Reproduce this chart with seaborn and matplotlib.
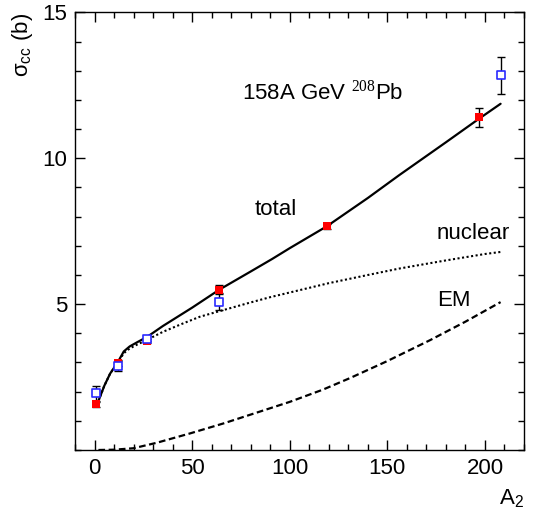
import numpy as np
import pandas as pd
import matplotlib
matplotlib.use("Agg")
import matplotlib.pyplot as plt
import seaborn as sns

# --- curves ---
A_total = [2, 5, 8, 12, 15, 18, 22, 27, 35, 50, 64, 80, 91, 100, 119, 140, 156, 180, 197, 208]
sigma_total = [1.68, 2.2, 2.62, 3.02, 3.38, 3.55, 3.7, 3.88, 4.25, 4.88, 5.5, 6.12, 6.55, 6.92,
               7.67, 8.64, 9.42, 10.55, 11.36, 11.87]

A_nuclear = [2, 5, 8, 12, 15, 18, 22, 27, 35, 45, 54, 64, 80, 90, 105, 120, 140, 156, 180, 200, 208]
sigma_nuclear = [1.68, 2.2, 2.62, 3.0, 3.32, 3.48, 3.62, 3.78, 4.05, 4.33, 4.57, 4.76, 5.06,
                 5.24, 5.48, 5.72, 6.0, 6.22, 6.5, 6.72, 6.79]

A_em = [2, 10, 20, 32, 49, 66, 83, 100, 117, 131, 150, 172, 190, 208]
sigma_em = [0.0, 0.01, 0.06, 0.25, 0.57, 0.91, 1.28, 1.65, 2.07, 2.47, 3.05, 3.77, 4.4, 5.07]

# --- measurements ---
A_red = [1, 12, 27, 64, 119, 197]
sigma_red = [1.56, 2.99, 3.74, 5.50, 7.67, 11.41]
err_red = [0.08, 0.1, 0.08, 0.15, 0.08, 0.33]

A_blue = [1, 12, 27, 64, 208]
sigma_blue = [1.94, 2.88, 3.82, 5.09, 12.85]
err_blue = [0.26, 0.18, 0.1, 0.29, 0.64]

sns.set_theme(style="ticks")
plt.rcParams['font.family'] = ['Liberation Sans', 'DejaVu Sans']
plt.rcParams['mathtext.fontset'] = 'custom'
plt.rcParams['mathtext.rm'] = 'Liberation Serif'
plt.rcParams['mathtext.sf'] = 'Liberation Sans'
plt.rcParams['mathtext.it'] = 'Liberation Sans:italic'
plt.rcParams['text.color'] = 'black'
plt.rcParams['axes.labelcolor'] = 'black'

fig = plt.figure(figsize=(5.38, 5.12), dpi=100)
ax = fig.add_axes([0.1394, 0.1211, 0.8346, 0.8545])

sns.lineplot(x=A_total, y=sigma_total, ax=ax, color='black', lw=1.6)
sns.lineplot(x=A_nuclear, y=sigma_nuclear, ax=ax, color='black', lw=1.5,
             linestyle=(0, (1, 1.2)))
sns.lineplot(x=A_em, y=sigma_em, ax=ax, color='black', lw=1.6,
             linestyle=(0, (3, 1.6)))

ax.errorbar(A_blue, sigma_blue, yerr=err_blue, fmt='none', ecolor='black',
            elinewidth=1.0, capsize=2.9, capthick=1.0, zorder=3)
ax.errorbar(A_red, sigma_red, yerr=err_red, fmt='none', ecolor='black',
            elinewidth=1.0, capsize=2.9, capthick=1.0, zorder=3)
sns.scatterplot(x=A_red, y=sigma_red, ax=ax, marker='s', s=38, color='#ff0000',
                edgecolor='#ff0000', linewidth=0, zorder=4)
sns.scatterplot(x=A_blue, y=sigma_blue, ax=ax, marker='s', s=34, facecolor='white',
                edgecolor='#2a2aff', linewidth=1.2, zorder=5)

ax.set_xlim(-10, 220)
ax.set_ylim(0, 15)
ax.set_xticks([0, 50, 100, 150, 200])
ax.set_xticks(np.arange(-10, 221, 10), minor=True)
ax.set_yticks([5, 10, 15])
ax.set_yticks(np.arange(0, 16, 1), minor=True)

ax.tick_params(which='both', direction='in', top=True, right=True, labelsize=16,
               color='black', labelcolor='black', width=1.0)
ax.tick_params(which='major', length=7.5, pad=5.5)
ax.tick_params(which='minor', length=4)
for sp in ax.spines.values():
    sp.set_visible(True)
    sp.set_linewidth(1.0)
    sp.set_color('black')

ax.set_ylabel(r"σ$_{\mathsf{cc}}$ (b)", fontsize=16, loc='top')
ax.yaxis.set_label_coords(-0.089, 1.0)
ax.set_xlabel(r"A$_{\mathsf{2}}$", fontsize=16, loc='right')
ax.xaxis.set_label_coords(1.0, -0.085)

ax.text(75.4, 12.26, r"158A GeV $^{\mathrm{208}}$Pb", fontsize=16, va='center', ha='left')
ax.text(82, 8.25, "total", fontsize=16, va='center', ha='left')
ax.text(175.2, 7.42, "nuclear", fontsize=16, va='center', ha='left')
ax.text(175.5, 5.14, "EM", fontsize=16, va='center', ha='left')

fig.savefig("out.png", dpi=100)
